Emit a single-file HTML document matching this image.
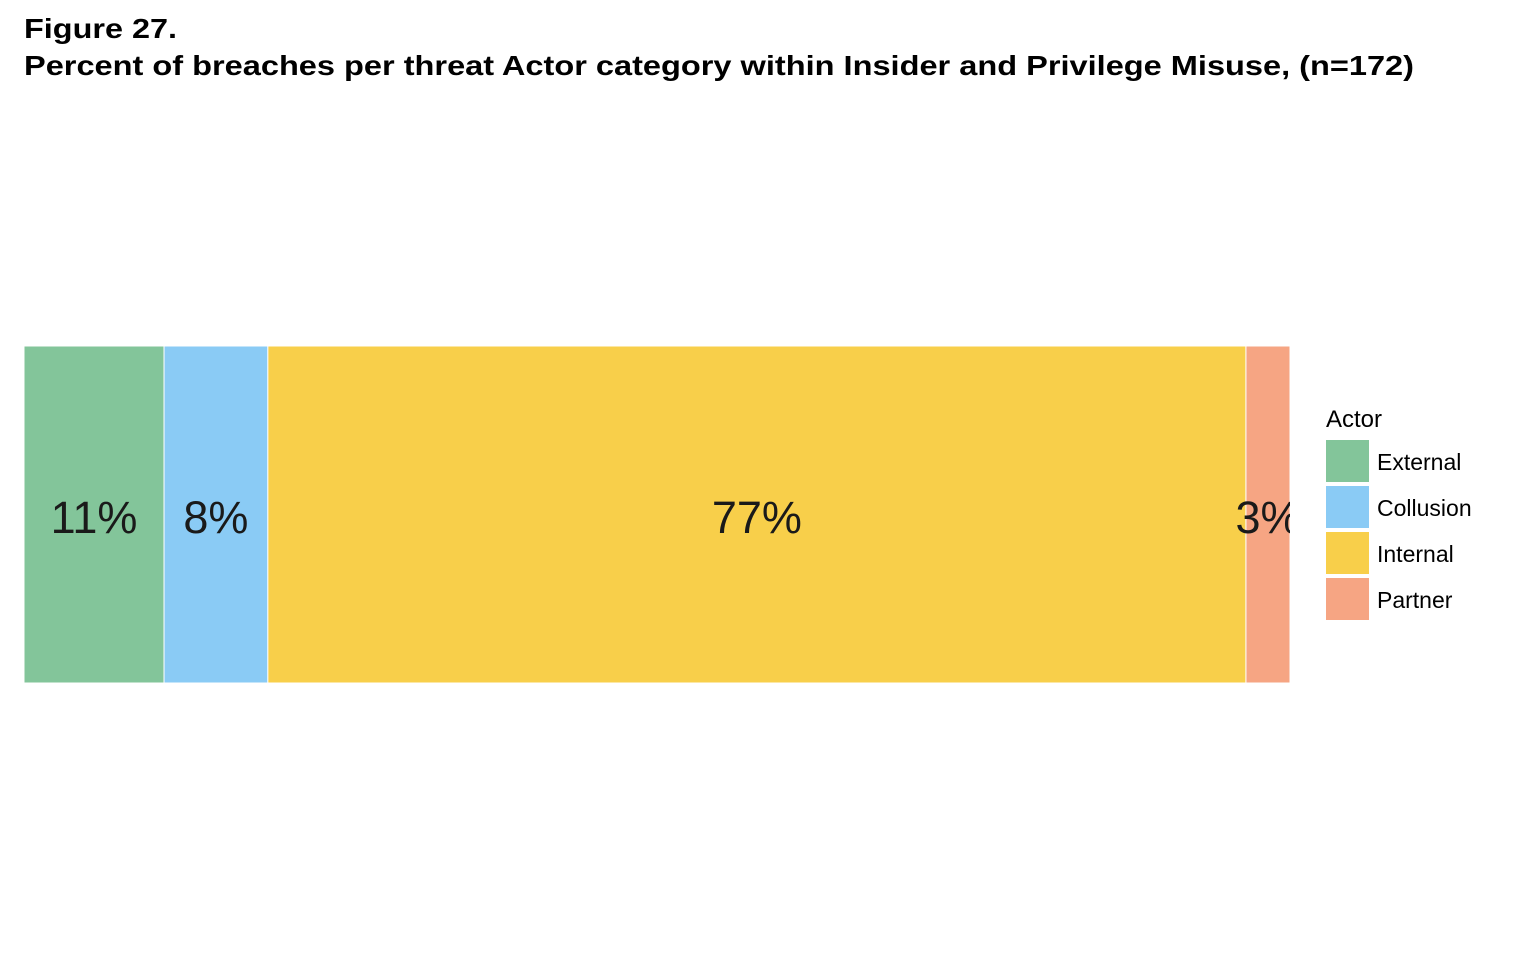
<!DOCTYPE html>
<html><head><meta charset="utf-8"><style>
body{margin:0;background:#fff;width:1536px;height:960px;overflow:hidden;font-family:"Liberation Sans",Arial,sans-serif}
</style></head><body>
<svg width="1536" height="960">
<text x="24" y="38" font-size="28" font-weight="bold" fill="#000" textLength="153" lengthAdjust="spacingAndGlyphs">Figure 27.</text>
<text x="24" y="75" font-size="28" font-weight="bold" fill="#000" textLength="1390" lengthAdjust="spacingAndGlyphs">Percent of breaches per threat Actor category within Insider and Privilege Misuse, (n=172)</text>
<defs><clipPath id="bc"><rect x="24" y="346" width="1266" height="337"/></clipPath></defs>
<g id="bars" clip-path="url(#bc)"></g>
<g id="legend"></g>
</svg>
<script>
const categories=["External","Collusion","Internal","Partner"];
const values=[11.06,8.2,77.25,3.48];
const colors=["#83c59a","#8acbf5","#f8cf4a","#f6a583"];
const X0=24,X1=1290,Y0=346,Y1=683;
const total=values.reduce((a,b)=>a+b,0);
const xs=v=>X0+(X1-X0)*v/total;
const ns="http://www.w3.org/2000/svg";
const g=document.getElementById('bars');
let cum=0;
values.forEach((v,i)=>{
  const x=xs(cum),w=xs(cum+v)-x;cum+=v;
  const r=document.createElementNS(ns,'rect');
  r.setAttribute('x',x);r.setAttribute('y',Y0);r.setAttribute('width',w);r.setAttribute('height',Y1-Y0);
  r.setAttribute('fill',colors[i]);r.setAttribute('stroke','#fff');r.setAttribute('stroke-width','1');
  
  
  g.appendChild(r);
  const t=document.createElementNS(ns,'text');
  t.setAttribute('x',x+w/2);t.setAttribute('y',533);t.setAttribute('text-anchor','middle');
  t.setAttribute('font-size','45');t.setAttribute('fill','#1a1a1a');
  t.textContent=Math.round(v)+'%';
  
  
  g.appendChild(t);
});
const L=document.getElementById('legend');
const lt=document.createElementNS(ns,'text');
lt.setAttribute('x',1326);lt.setAttribute('y',427);lt.setAttribute('font-size','24');lt.setAttribute('fill','#000');
lt.textContent='Actor';


L.appendChild(lt);
categories.forEach((c,i)=>{
  const y=440+i*46;
  const r=document.createElementNS(ns,'rect');
  r.setAttribute('x',1326);r.setAttribute('y',y);r.setAttribute('width',43);r.setAttribute('height',42);r.setAttribute('fill',colors[i]);
  
  
  L.appendChild(r);
  const t=document.createElementNS(ns,'text');
  t.setAttribute('x',1377);t.setAttribute('y',y+30);t.setAttribute('font-size','23');t.setAttribute('fill','#000');
  t.textContent=c;
  
  
  L.appendChild(t);
});
</script>
</body></html>
